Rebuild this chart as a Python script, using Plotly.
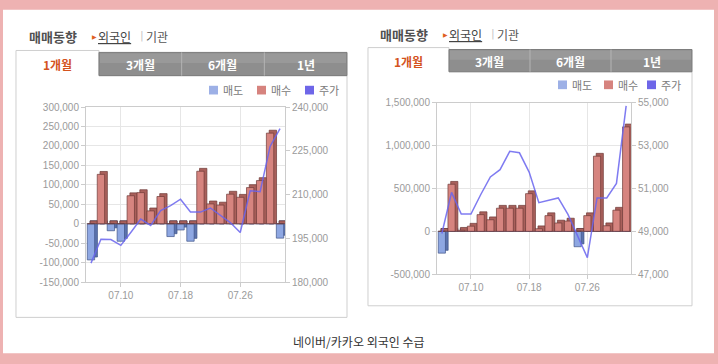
import plotly.graph_objects as go

W, H = 718, 364

# ---------------- data ----------------
DATES = ['07.05', '07.06', '07.07', '07.10', '07.11', '07.12', '07.13', '07.14', '07.17', '07.18',
         '07.19', '07.20', '07.21', '07.24', '07.25', '07.26', '07.27', '07.28', '07.31', '08.01']
TICK_DATES = ['07.10', '07.18', '07.26']

NAVER_SELL = [-93000, 0, -18000, -45000, 0, 0, 0, 0, -33000, -16000,
              -45000, 0, 0, 0, 0, 0, 0, 0, 0, -37000]
NAVER_BUY = [0, 127000, 0, 0, 72000, 80000, 33000, 70000, 0, 0,
             0, 135000, 51000, 48000, 76000, 68000, 93000, 111000, 233000, 0]
NAVER_PRICE = [186500, 194700, 194600, 192600, 197000, 201600, 199400, 204500, 206200, 208400,
               204000, 204000, 205400, 202800, 200400, 197000, 211300, 211000, 226500, 232600]
NAVER_VOL_TICKS = [-150000, -100000, -50000, 0, 50000, 100000, 150000, 200000, 250000, 300000]
NAVER_VOL_LABELS = ['-150,000', '-100,000', '-50,000', '0', '50,000', '100,000', '150,000',
                    '200,000', '250,000', '300,000']
NAVER_PRICE_TICKS = [180000, 195000, 210000, 225000, 240000]
NAVER_PRICE_LABELS = ['180,000', '195,000', '210,000', '225,000', '240,000']

KAKAO_SELL = [-255000, 0, 0, 0, 0, 0, 0, 0, 0, 0,
              0, 0, 0, 0, -180000, 0, 0, 0, 0, 0]
KAKAO_BUY = [0, 550000, 12000, 60000, 195000, 135000, 270000, 270000, 270000, 440000,
             30000, 183000, 97000, 120000, 0, 183000, 878000, 65000, 247000, 1220000]
KAKAO_PRICE = [48900, 50820, 49810, 49810, 50710, 51540, 51880, 52740, 52670, 51770,
               50340, 50450, 50560, 49790, 48790, 47770, 50560, 50560, 51240, 54860]
KAKAO_VOL_TICKS = [-500000, 0, 500000, 1000000, 1500000]
KAKAO_VOL_LABELS = ['-500,000', '0', '500,000', '1,000,000', '1,500,000']
KAKAO_PRICE_TICKS = [47000, 49000, 51000, 53000, 55000]
KAKAO_PRICE_LABELS = ['47,000', '49,000', '51,000', '53,000', '55,000']

LEGEND_NAMES = ['매도', '매수', '주가']
TABS = ['1개월', '3개월', '6개월', '1년']
HEADER = '매매동향'
SUBTABS = ['외국인', '기관']
CAPTION = '네이버/카카오 외국인 수급'

# ---------------- style ----------------
PINK = '#eeb2b2'
SELL_FACE, SELL_SIDE, SELL_EDGE = '#8ea7e2', '#5b73ad', '#3f5386'
BUY_FACE, BUY_SIDE, BUY_EDGE = '#d6847f', '#a9605b', '#6e3a37'
LINE_COL = 'rgba(105,100,238,0.85)'
LEG_COLS = ['#9db0e6', '#d6837e', '#6e66e8']
GRID = '#e6e6e6'
AXLINE = '#cccccc'
TICKFONT = dict(family='Liberation Sans, Arial, sans-serif', size=10, color='#9a9a9a')
KFONT = 'Noto Sans CJK KR, Noto Sans, sans-serif'
BW = 0.74      # bar face width (category units)
DX = 0.28      # 3D depth offset (category units)
DEPTH = 0.0165  # 3D depth as fraction of the axis range


def fx(x):
    return x / W


def fy(y):
    return 1 - y / H


fig = go.Figure()


def add_chart(sell, buy, price, xa, ya, ya2, vrange):
    depth = DEPTH * (vrange[1] - vrange[0])
    series = [(sell, SELL_FACE, SELL_SIDE, SELL_EDGE), (buy, BUY_FACE, BUY_SIDE, BUY_EDGE)]
    # back/side "shadow" bars (3D effect)
    for vals, face, side, edge in series:
        base = [v + depth if v < 0 else 0 for v in vals]
        height = [-v if v < 0 else v + depth for v in vals]
        fig.add_trace(go.Bar(x=DATES, y=height, base=base, xaxis=xa, yaxis=ya,
                             width=BW, offset=-BW / 2 + DX,
                             marker=dict(color=side, line=dict(color=edge, width=0.7)),
                             showlegend=False, hoverinfo='skip'))
    # front faces
    for vals, face, side, edge in series:
        fig.add_trace(go.Bar(x=DATES, y=vals, xaxis=xa, yaxis=ya,
                             width=BW, offset=-BW / 2,
                             marker=dict(color=face, line=dict(color=edge, width=0.7)),
                             showlegend=False))
    fig.add_trace(go.Scatter(x=DATES, y=price, xaxis=xa, yaxis=ya2, mode='lines',
                             line=dict(color=LINE_COL, width=1.5), showlegend=False))


add_chart(NAVER_SELL, NAVER_BUY, NAVER_PRICE, 'x', 'y', 'y2', (-150000, 300000))
add_chart(KAKAO_SELL, KAKAO_BUY, KAKAO_PRICE, 'x2', 'y3', 'y4', (-500000, 1500000))

xcommon = dict(type='category', categoryorder='array', categoryarray=DATES, range=[-0.5, 19.5],
               tickmode='array', tickvals=TICK_DATES, ticktext=TICK_DATES,
               showgrid=True, gridcolor=GRID, ticks='outside', ticklen=4, tickcolor=AXLINE,
               showline=True, linecolor=AXLINE, mirror=True, tickfont=TICKFONT, fixedrange=True)
ycommon = dict(tickmode='array', showgrid=True, gridcolor=GRID, zeroline=False,
               ticks='outside', ticklen=4, tickcolor=AXLINE, showline=True, linecolor=AXLINE,
               mirror=True, tickfont=TICKFONT, fixedrange=True)
y2common = dict(tickmode='array', side='right', showgrid=False, zeroline=False,
                ticks='outside', ticklen=4, tickcolor=AXLINE, showline=False,
                tickfont=TICKFONT, fixedrange=True)

fig.update_layout(
    width=W, height=H, autosize=False,
    margin=dict(l=0, r=0, t=0, b=0),
    paper_bgcolor=PINK, plot_bgcolor='white',
    barmode='overlay', showlegend=False,
    xaxis=dict(domain=[fx(86), fx(285)], anchor='y', **xcommon),
    yaxis=dict(domain=[fy(285.5), fy(104.5)], anchor='x', range=[-150000, 300000],
               tickvals=NAVER_VOL_TICKS, ticktext=NAVER_VOL_LABELS, **ycommon),
    yaxis2=dict(overlaying='y', anchor='x', range=[180000, 240000],
                tickvals=NAVER_PRICE_TICKS, ticktext=NAVER_PRICE_LABELS, **y2common),
    xaxis2=dict(domain=[fx(437), fx(631)], anchor='y3', **xcommon),
    yaxis3=dict(domain=[fy(277.25), fy(100.25)], anchor='x2', range=[-500000, 1500000],
                tickvals=KAKAO_VOL_TICKS, ticktext=KAKAO_VOL_LABELS, **ycommon),
    yaxis4=dict(overlaying='y3', anchor='x2', range=[47000, 55000],
                tickvals=KAKAO_PRICE_TICKS, ticktext=KAKAO_PRICE_LABELS, **y2common),
)

shapes = []
annots = []


def rect(x0, y0, x1, y1, fill, line=None, lw=1):
    shapes.append(dict(type='rect', xref='paper', yref='paper', x0=fx(x0), x1=fx(x1),
                       y0=fy(y1), y1=fy(y0), fillcolor=fill,
                       line=dict(color=line or fill, width=lw if line else 0), layer='below'))


def seg(x0, y0, x1, y1, color, lw=1):
    shapes.append(dict(type='line', xref='paper', yref='paper', x0=fx(x0), x1=fx(x1),
                       y0=fy(y0), y1=fy(y1), line=dict(color=color, width=lw), layer='below'))


def path(pts, color):
    d = 'M' + ' L'.join(f'{fx(x):.5f},{fy(y):.5f}' for x, y in pts) + ' Z'
    shapes.append(dict(type='path', xref='paper', yref='paper', path=d, fillcolor='white',
                       line=dict(color=color, width=1), layer='below'))


def text(x, y, s, size=12, color='#444', xanchor='left', bold=False, family=KFONT):
    annots.append(dict(xref='paper', yref='paper', x=fx(x), y=fy(y), text=(f'<b>{s}</b>' if bold else s),
                       showarrow=False, xanchor=xanchor, yanchor='middle',
                       font=dict(family=family, size=size, color=color)))


# outer white card
rect(3, 4, 714, 359, 'white')


def panel(x0, x_tab, x1, y_top, y_tabb, y_bot, header_y, hx, tab_text_y, legend_y, legend_x):
    # outline with active tab
    path([(x0, y_bot), (x0, y_top), (x_tab, y_top), (x_tab, y_tabb), (x1, y_tabb), (x1, y_bot)], '#cfcfcf')
    # inactive tabs
    rect(x_tab, y_top + 2, x1, y_tabb, '#8e8e8e', '#7c7c7c')
    rect(x_tab + 1, y_top + 3, x1 - 1, (y_top + y_tabb) / 2, '#999999')
    step = (x1 - x_tab) / 3
    for i in (1, 2):
        seg(x_tab + step * i, y_top + 2, x_tab + step * i, y_tabb, '#b4b4b4')
    # tab labels
    text((x0 + x_tab) / 2, tab_text_y, TABS[0], size=12, color='#d4531e', xanchor='center', bold=True)
    for i in range(3):
        text(x_tab + step * (i + 0.5), tab_text_y, TABS[i + 1], size=12, color='#ffffff',
             xanchor='center', bold=True)
    # header
    text(hx, header_y, HEADER, size=13, color='#505050', bold=True)
    text(hx + 63, header_y, '▶', size=6, color='#e0601e', family='DejaVu Sans')
    text(hx + 69, header_y, f'<u>{SUBTABS[0]}</u>', size=12, color='#444')
    text(hx + 111, header_y - 1, '|', size=11, color='#c8c8c8', family='DejaVu Sans')
    text(hx + 117, header_y, SUBTABS[1], size=12, color='#555')
    # legend
    for i, (lx, name) in enumerate(zip(legend_x, LEGEND_NAMES)):
        rect(lx, legend_y - 4.5, lx + 9, legend_y + 4.5, LEG_COLS[i])
        text(lx + 12, legend_y, name, size=11, color='#7a7a7a')


panel(16, 99, 347, 46, 72, 322, 32, 27, 60, 87, [209, 257, 305])
panel(368, 449, 692, 43, 68, 310, 29.5, 378, 57, 81.5, [558, 604, 647])

# caption
text(359, 347, CAPTION, size=12, color='#333', xanchor='center')

fig.update_layout(shapes=shapes, annotations=annots)

fig.write_html("out.html", config={'displayModeBar': False},
               post_script="document.body.style.margin='0';document.body.style.overflow='hidden';")
